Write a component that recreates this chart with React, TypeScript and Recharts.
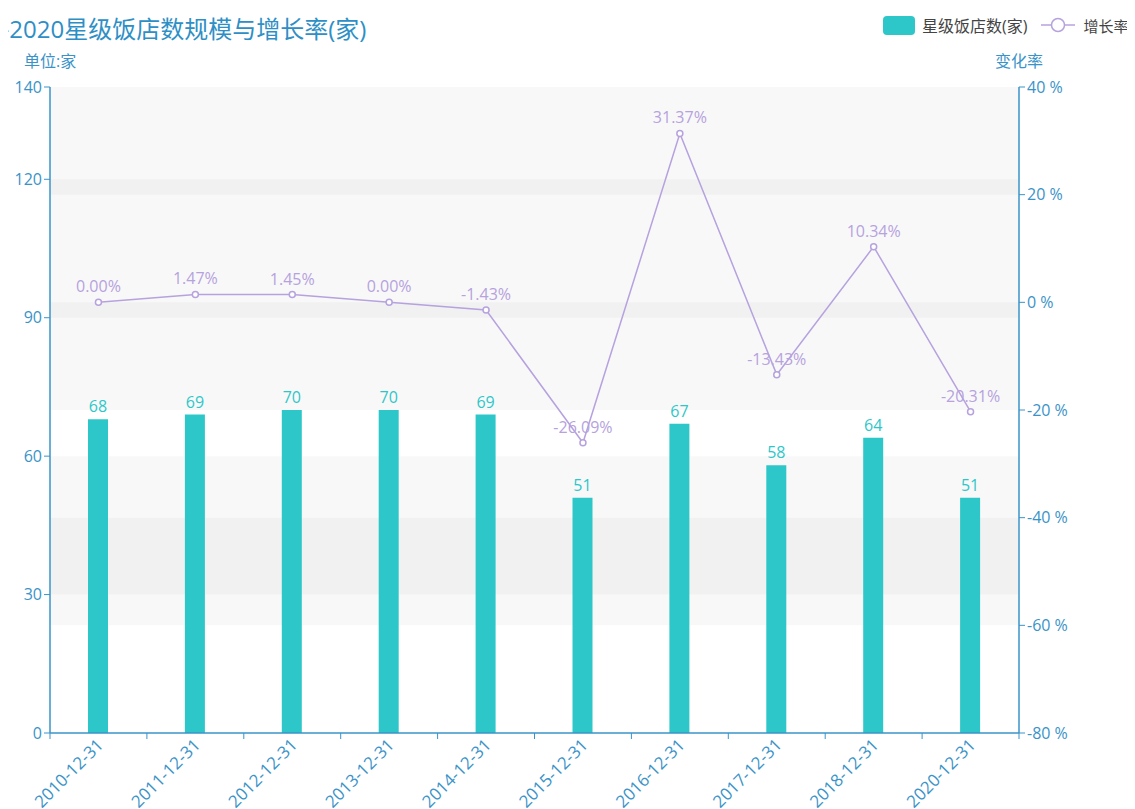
import React from 'react';
import { ComposedChart, Bar, Line, XAxis, YAxis, LabelList, ReferenceArea } from 'recharts';

const categories = ['2010-12-31', '2011-12-31', '2012-12-31', '2013-12-31', '2014-12-31', '2015-12-31', '2016-12-31', '2017-12-31', '2018-12-31', '2020-12-31'];
const hotelCounts = [68, 69, 70, 70, 69, 51, 67, 58, 64, 51];
const growthRates = [0.0, 1.47, 1.45, 0.0, -1.43, -26.09, 31.37, -13.43, 10.34, -20.31];
const leftTicks = [0, 30, 60, 90, 120, 140];
const rightTicks = [-80, -60, -40, -20, 0, 20, 40];
const leftBands = [[30, 60], [90, 120]];
const rightBands = [[-60, -40], [-20, 0], [20, 40]];

const data = categories.map((c, i) => ({ date: c, count: hotelCounts[i], rate: growthRates[i] }));

const AXIS = '#3a93c8';
const TEAL = '#2ec7c9';
const PURPLE = '#b6a2de';
const FONT = '"Open Sans", "Noto Sans CJK SC", sans-serif';

const XTick = (props: any) => {
  const { x, y, payload, index } = props;
  const off = payload && payload.offset ? payload.offset : 48.45;
  const tx = x + 6;
  const ty = y + 13;
  return (
    <g>
      <line x1={x - off} y1={y} x2={x - off} y2={y + 6} stroke={AXIS} strokeWidth={1} />
      {index === categories.length - 1 && (
        <line x1={x + off} y1={y} x2={x + off} y2={y + 6} stroke={AXIS} strokeWidth={1} />
      )}
      <text x={tx} y={ty} transform={`rotate(-45, ${tx}, ${ty})`} textAnchor="end" fill={AXIS} fontSize={17} fontFamily={FONT}>
        {payload.value}
      </text>
    </g>
  );
};

export default function App() {
  return (
    <div style={{ position: 'relative', width: 1127, height: 801, fontFamily: FONT }}>
      <div style={{ position: 'absolute', left: -7, top: 2, fontSize: 24, color: '#2e8fc6', whiteSpace: 'nowrap' }}>
        <span style={{ fontFamily: '"Noto Sans CJK SC", sans-serif' }}>-</span>2020星级饭店数规模与增长率(家)
      </div>
      <div style={{ position: 'absolute', left: 16, top: 40, fontSize: 16, color: AXIS }}>单位:家</div>
      <div style={{ position: 'absolute', left: 987, top: 40, fontSize: 16, color: AXIS }}>变化率</div>
      <div style={{ position: 'absolute', left: 875, top: 5, display: 'flex', alignItems: 'center', fontSize: 16, color: '#444', whiteSpace: 'nowrap' }}>
        <span style={{ display: 'inline-block', width: 32, height: 19, borderRadius: 4, background: TEAL, marginRight: 7 }} />
        <span style={{ marginRight: 14 }}>星级饭店数(家)</span>
        <svg width={34} height={20} style={{ marginRight: 8 }}>
          <line x1={0} y1={10} x2={34} y2={10} stroke={PURPLE} strokeWidth={1.5} />
          <circle cx={17} cy={10} r={6.5} fill="#fff" stroke={PURPLE} strokeWidth={1.5} />
        </svg>
        <span style={{ fontSize: 15 }}>增长率</span>
      </div>
      <ComposedChart width={1127} height={801} data={data} margin={{ top: 79, right: 46, left: 0, bottom: 6 }}>
        {leftBands.map((b, i) => (
          <ReferenceArea key={'l' + i} yAxisId="left" y1={b[0]} y2={b[1]} fill="#c8c8c8" fillOpacity={0.12} stroke="none" />
        ))}
        {rightBands.map((b, i) => (
          <ReferenceArea key={'r' + i} yAxisId="right" y1={b[0]} y2={b[1]} fill="#c8c8c8" fillOpacity={0.12} stroke="none" />
        ))}
        <XAxis
          dataKey="date"
          height={70}
          tickLine={false}
          tickSize={0}
          tickMargin={0}
          interval={0}
          axisLine={{ stroke: AXIS, strokeWidth: 1.5 }}
          tick={<XTick />}
        />
        <YAxis
          yAxisId="left"
          width={42}
          domain={[0, 140]}
          ticks={leftTicks}
          interval={0}
          axisLine={{ stroke: AXIS, strokeWidth: 1.5 }}
          tickLine={{ stroke: AXIS }}
          tickSize={6}
          tick={{ fill: AXIS, fontSize: 16, fontFamily: FONT }}
        />
        <YAxis
          yAxisId="right"
          orientation="right"
          width={70}
          domain={[-80, 40]}
          ticks={rightTicks}
          interval={0}
          axisLine={{ stroke: AXIS, strokeWidth: 1.5 }}
          tickLine={{ stroke: AXIS }}
          tickSize={6}
          tickFormatter={(v: number) => `${v} %`}
          tick={{ fill: AXIS, fontSize: 16, fontFamily: FONT }}
        />
        <Bar yAxisId="left" dataKey="count" name="星级饭店数(家)" fill={TEAL} barSize={20} isAnimationActive={false}>
          <LabelList dataKey="count" position="top" offset={7} fill={TEAL} fontSize={16} fontFamily={FONT} />
        </Bar>
        <Line
          yAxisId="right"
          dataKey="rate"
          name="增长率"
          type="linear"
          stroke={PURPLE}
          strokeWidth={1.5}
          dot={{ r: 3, fill: '#fff', stroke: PURPLE, strokeWidth: 1.5 }}
          activeDot={false}
          isAnimationActive={false}
        >
          <LabelList
            dataKey="rate"
            position="top"
            offset={10}
            fill={PURPLE}
            fontSize={16}
            fontFamily={FONT}
            formatter={(v: any) => `${Number(v).toFixed(2)}%`}
          />
        </Line>
      </ComposedChart>
    </div>
  );
}
